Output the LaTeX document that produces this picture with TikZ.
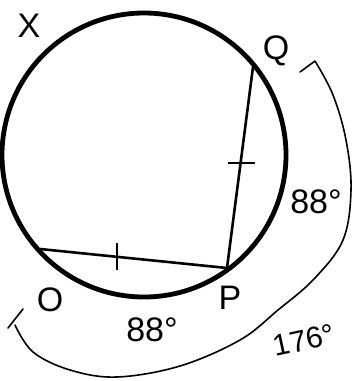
\documentclass[tikz,border=0pt]{standalone}
\usepackage{fontspec}
\setmainfont{Liberation Sans}
\usepackage{tikz}
\usetikzlibrary{calc}

\begin{document}
\begin{tikzpicture}[x=1pt,y=-1pt,
    lbl/.style={font=\fontsize{34}{36}\selectfont,inner sep=0pt},
    chord/.style={line width=2.6pt},
    tick/.style={line width=2pt},
    arcmark/.style={line width=1.6pt,line cap=round,line join=round}]

    \useasboundingbox (0,0) rectangle (352,381);

    % ─── Circle ───────────────────────────────────────────
    \coordinate (C) at (144,155);
    \draw[line width=4.8pt] (C) circle (142);

    % ─── Points on the circle ─────────────────────────────
    \coordinate (Q) at (253,67);
    \coordinate (P) at (227,268);
    \coordinate (O) at (40,249);

    % chords
    \draw[chord] (Q) -- (P);
    \draw[chord] (O) -- (P);

    % congruence ticks
    \path (Q) -- (P) coordinate[pos=0.48] (tq);
    \path (O) -- (P) coordinate[pos=0.41] (to);
    \draw[tick] ($(tq)+(-13,0)$) -- ($(tq)+(14,0)$);
    \draw[tick] ($(to)+(0,-14)$) -- ($(to)+(0,13)$);

    % ─── Labels ───────────────────────────────────────────
    \node[lbl] (lx) at (29,26) {X};
    \node[lbl] (lq) at (276,51) {Q};
    \node[lbl] (lo) at (50,300) {O};
    \node[lbl] (lp) at (230,298) {P};
    \node[lbl] (aqp) at (316,202) {88°};
    \node[lbl] (aop) at (152,330) {88°};
    \node[lbl,font=\fontsize{30}{32}\selectfont,rotate=12] (aqo) at (304,340) {176°};

    % ─── Big arc O..Q ─────────────────────────────────────
    \coordinate (hk) at (300,72);
    \coordinate (hp) at (315,61);
    \draw[arcmark] (hk) -- (hp)
      plot[smooth,tension=0.6] coordinates {(315,61) (333,95) (346,140) (351,190)
        (343,240) (314,279) (278,310) (240,340) (180,366) (117,377)
        (70,370) (33,352) (15,325)};
    \coordinate (ea) at (8,328);
    \coordinate (eb) at (23,309);
    \draw[arcmark] (ea) -- (eb);

\end{tikzpicture}
\end{document}
